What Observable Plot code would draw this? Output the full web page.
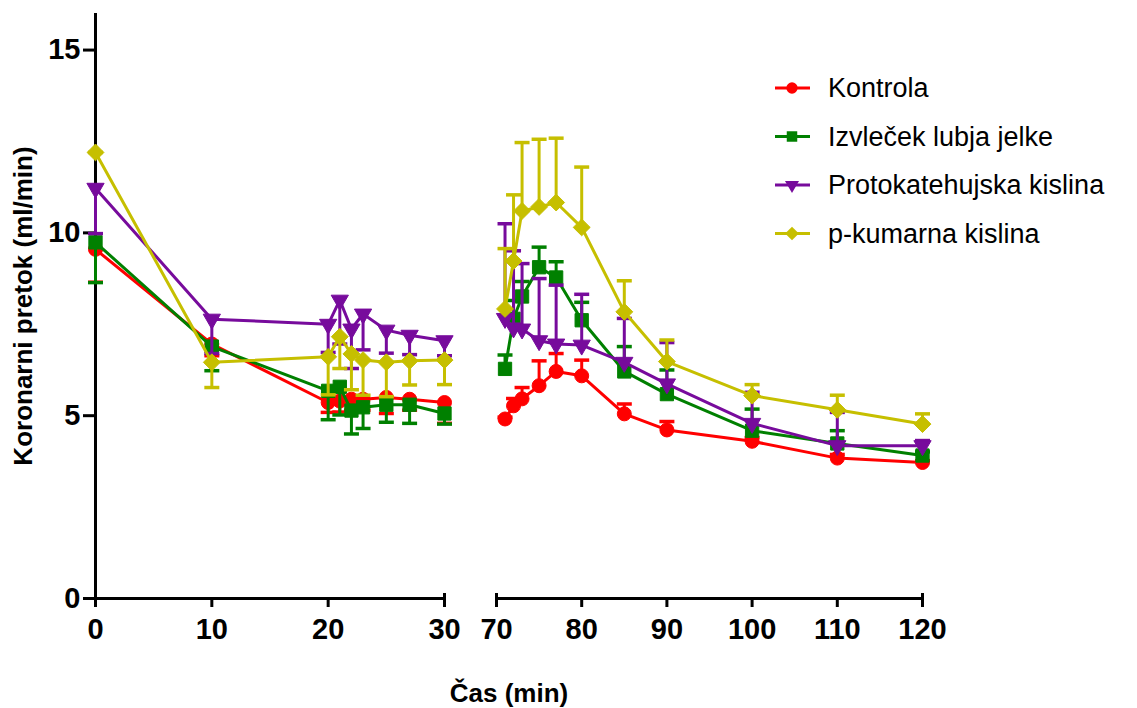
<!DOCTYPE html>
<html><head><meta charset="utf-8">
<script src="https://cdn.jsdelivr.net/npm/d3@7"></script>
<script src="https://cdn.jsdelivr.net/npm/@observablehq/plot@0.6"></script>
<style>
body{margin:0;background:#fff;}
#wrap{position:relative;width:1137px;height:708px;font-family:"Liberation Sans",Arial,sans-serif;}
#wrap svg{font-family:"Liberation Sans",Arial,sans-serif;}
#legend{position:absolute;left:0;top:0;pointer-events:none;}
</style></head><body><div id="wrap"></div>
<script>
// ---- data ----
const times = [0,10,20,21,22,23,25,27,30,71,72,73,75,77,80,85,90,100,110,120];
const seriesNames = ["Kontrola","Izvleček lubja jelke","Protokatehujska kislina","p-kumarna kislina"];
const seriesColors = ["#ff0000","#008000","#770b9c","#c6bf00"];
const kontrola     = [9.55,6.96,5.36,5.40,5.45,5.45,5.50,5.45,5.36, 4.91,5.27,5.46,5.82,6.21,6.09,5.05,4.61,4.30,3.84,3.72];
const kontrolaErr  = [0.90,0.32,0.27,0.30,0.30,0.30,0.44,0.30,0.57, 0.05,0.20,0.31,0.68,0.49,0.43,0.27,0.23,0.10,0.10,0.05];
const izvlecek     = [9.74,6.89,5.68,5.79,5.14,5.23,5.30,5.30,5.06, 6.28,7.65,8.26,9.06,8.78,7.61,6.21,5.59,4.59,4.24,3.91];
const izvlecekErr  = [1.10,0.66,0.79,0.77,0.64,0.58,0.48,0.51,0.29, 0.38,0.50,0.41,0.55,0.43,0.49,0.68,0.66,0.59,0.35,0.10];
const protokat     = [11.22,7.64,7.50,8.16,7.37,7.78,7.34,7.20,7.05, 7.66,7.40,7.37,7.05,6.96,6.93,6.46,5.87,4.79,4.18,4.18];
const protokatErr  = [1.24,0.94,0.77,1.20,1.08,0.98,0.63,0.53,0.41, 2.59,2.11,1.79,1.70,1.61,1.39,1.20,1.13,0.85,0.91,0.14];
const kumarna      = [12.20,6.46,6.61,7.16,6.69,6.52,6.46,6.50,6.52, 7.92,9.23,10.60,10.71,10.83,10.15,7.84,6.48,5.55,5.16,4.77];
const kumarnaErr   = [0.00,0.69,1.04,0.87,0.98,0.96,0.94,0.66,0.67, 1.65,1.81,1.87,1.85,1.76,1.65,0.85,0.59,0.30,0.40,0.28];
const xSegments = [[0,30],[70,120]];
const xTicks = [0,10,20,30,70,80,90,100,110,120];
const yTicks = [0,5,10,15];
const yDomain = [0,16];
const lastBelowTime = 30; // error bars point down in the first segment, up in the second

const values = [kontrola, izvlecek, protokat, kumarna];
const errors = [kontrolaErr, izvlecekErr, protokatErr, kumarnaErr];
const symbols = ["circle","square","triangle","diamond2"];
const symRot = [0,0,180,0];
const symR = [7,7.5,6.4,7.6];

const capSymbol = {draw(ctx, size){ const w = Math.sqrt(size/Math.PI); ctx.moveTo(-w,0); ctx.lineTo(w,0); }};

const marks = [];
// axes
marks.push(Plot.ruleX([0], {y1: yDomain[0], y2: yDomain[1], stroke:"#000", strokeWidth:3}));
marks.push(Plot.ruleY(xSegments, {x1: d=>d[0], x2: d=>d[1], y: 0, stroke:"#000", strokeWidth:3}));
marks.push(Plot.ruleX([30,70,120], {y1:0, y2:0, insetTop:-5, insetBottom:-9, stroke:"#000", strokeWidth:3}));
marks.push(Plot.axisX({ticks:xTicks, tickSize:9, tickPadding:11, fontSize:29, fontWeight:"bold", tickFormat:d=>String(d), strokeWidth:3, label:null, fill:"#000"}));
marks.push(Plot.axisY({ticks:yTicks, tickSize:12, tickPadding:3, fontSize:29, fontWeight:"bold", tickFormat:d=>String(d), strokeWidth:3, label:null, fill:"#000"}));
marks.push(Plot.text(["Čas (min)"], {text:d=>d, frameAnchor:"bottom", dy:103, fontSize:26, fontWeight:"bold", fill:"#000"}));
marks.push(Plot.text(["Koronarni pretok (ml/min)"], {text:d=>d, frameAnchor:"left", textAnchor:"middle", rotate:-90, dx:-72, fontSize:26, fontWeight:"bold", fill:"#000"}));

values.forEach((vals, i) => {
  const rows = times.map((t, j) => {
    const v = vals[j], e = errors[i][j];
    const below = t <= lastBelowTime;
    return {t, v, seg: below ? 0 : 1, lo: below ? v - e : v, hi: below ? v : v + e, cap: below ? v - e : v + e};
  });
  const c = seriesColors[i];
  marks.push(Plot.line(rows, {x:"t", y:"v", z:"seg", stroke:c, strokeWidth:3}));
  marks.push(Plot.ruleX(rows, {x:"t", y1:"lo", y2:"hi", stroke:c, strokeWidth:3}));
  marks.push(Plot.dot(rows, {x:"t", y:"cap", symbol:capSymbol, r:7.5, stroke:c, strokeWidth:3.5, fill:"none"}));
  marks.push(Plot.dot(rows, {x:"t", y:"v", symbol:symbols[i], rotate:symRot[i], r:symR[i], fill:c, stroke:c, strokeWidth:1}));
});

const chart = Plot.plot({
  width:1137, height:708,
  marginTop:13, marginBottom:110, marginLeft:95, marginRight:215,
  x:{type:"linear", domain:[0,30,70,120], range:[95,444,496,922]},
  y:{domain:yDomain},
  style:{fontFamily:'"Liberation Sans",Arial,sans-serif', color:"#000", background:"#fff"},
  marks
});
const wrap = document.getElementById("wrap");
wrap.appendChild(chart);

// legend overlay
const leg = d3.select(wrap).append("svg").attr("id","legend").attr("width",1137).attr("height",708);
const d3sym = [d3.symbolCircle, d3.symbolSquare, d3.symbolTriangle, d3.symbolDiamond2];
const legSize = [100, 110, 85, 120];
seriesNames.forEach((name, i) => {
  const y = 88 + i*48.5;
  const g = leg.append("g").attr("transform", `translate(0,${y})`);
  g.append("line").attr("x1",775).attr("x2",810).attr("y1",0).attr("y2",0).attr("stroke",seriesColors[i]).attr("stroke-width",3);
  g.append("path").attr("d", d3.symbol(d3sym[i], legSize[i])()).attr("fill",seriesColors[i])
    .attr("transform", `translate(792,0) rotate(${symRot[i]})`);
  g.append("text").attr("x",828).attr("y",0).attr("dy","0.35em").attr("font-size",27).attr("fill","#000").text(name);
});
</script></body></html>
